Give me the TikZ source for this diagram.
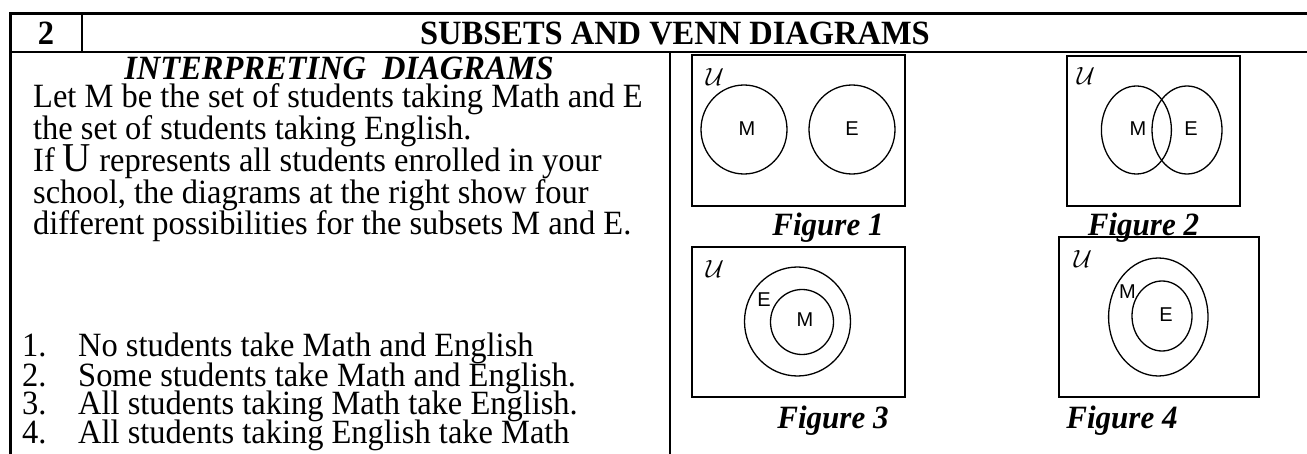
\documentclass[tikz,border=0pt]{standalone}
\usepackage{fontspec}
\setmainfont{Liberation Serif}[FakeStretch=0.955]
\newfontfamily\lsans{Liberation Sans}
\begin{document}
\begin{tikzpicture}[x=1pt,y=-1pt,
  txt/.style={anchor=base west,inner sep=0,font=\fontsize{34}{37}\selectfont},
  head/.style={anchor=base,inner sep=0,font=\bfseries\fontsize{34}{37}\selectfont},
  subhead/.style={anchor=base,inner sep=0,font=\bfseries\itshape\fontsize{34}{37}\selectfont},
  figcap/.style={anchor=base,inner sep=0,font=\bfseries\itshape\fontsize{32.5}{36}\selectfont},
  lbl/.style={inner sep=0,font=\lsans\fontsize{20}{24}\selectfont},
  uset/.style={inner sep=0,font=\fontsize{25}{28}\selectfont},
  boxline/.style={line width=1.5},
  venn/.style={line width=1.3},
  thick frame/.style={line width=3},
  thin frame/.style={line width=1.7}]
\useasboundingbox (0,0) rectangle (1307,454);
% frame
\coordinate (tl) at (9,14);
\coordinate (tr) at (1310,14);
\coordinate (lt) at (10.5,12.5);
\coordinate (bl) at (10.5,458);
\coordinate (hl) at (10.5,52);
\coordinate (hr) at (1310,52);
\coordinate (dt) at (82,14);
\coordinate (db) at (82,52);
\coordinate (ct) at (670,52);
\coordinate (cb) at (670,458);
\draw[thick frame] (tl) -- (tr);
\draw[thick frame] (lt) -- (bl);
\draw[thin frame] (hl) -- (hr);
\draw[thin frame] (dt) -- (db);
\draw[thin frame] (ct) -- (cb);
% header
\node[head] (num) at (46,45) {2};
\node[head] (title) at (675,45) {SUBSETS AND VENN DIAGRAMS};
% left column
\node[subhead] (sub) at (339,80) {INTERPRETING\ \ DIAGRAMS};
\node[txt] (p1) at (33,108) {Let M be the set of students taking Math and E};
\node[txt] (p2) at (33,140) {the set of students taking English.};
\node[txt] (p3) at (33,172) {If {\fontsize{41}{41}\selectfont U} represents all students enrolled in your};
\node[txt] (p4) at (33,204) {school, the diagrams at the right show four};
\node[txt] (p5) at (33,235) {different possibilities for the subsets M and E.};
\node[txt] (n1) at (22,357) {1.};
\node[txt] (l1) at (78,357) {No students take Math and English};
\node[txt] (n2) at (22,386) {2.};
\node[txt] (l2) at (78,386) {Some students take Math and English.};
\node[txt] (n3) at (22,414) {3.};
\node[txt] (l3) at (78,414) {All students taking Math take English.};
\node[txt] (n4) at (22,443) {4.};
\node[txt] (l4) at (78,443) {All students taking English take Math};
% Figure 1
\draw[boxline] (692,55) rectangle (905,206);
\node[uset] (u1) at (715,77) {$\mathcal{U}$};
\draw[venn] (744,129.5) ellipse [x radius=43,y radius=44.5];
\draw[venn] (852,129.5) ellipse [x radius=43,y radius=44.5];
\node[lbl] (m1) at (747,129) {M};
\node[lbl] (e1) at (852,129) {E};
\node[figcap] (c1) at (828,236) {Figure 1};
% Figure 2
\draw[boxline] (1067,56) rectangle (1240,206);
\node[uset] (u2) at (1086,76) {$\mathcal{U}$};
\draw[venn] (1136.4,130) ellipse [x radius=35,y radius=44];
\draw[venn] (1187,130) ellipse [x radius=35,y radius=44];
\node[lbl] (m2) at (1138,129) {M};
\node[lbl] (e2) at (1191,129) {E};
\node[figcap] (c2) at (1143.5,236) {Figure 2};
% Figure 3
\draw[boxline] (692,247) rectangle (905,397);
\node[uset] (u3) at (715,269) {$\mathcal{U}$};
\draw[venn] (797.5,321.5) ellipse [x radius=53,y radius=54.5];
\draw[venn] (802,322) ellipse [x radius=31.5,y radius=32.5];
\node[lbl] (e3) at (764,299.5) {E};
\node[lbl] (m3) at (805,320) {M};
\node[figcap] (c3) at (833,428) {Figure 3};
% Figure 4
\draw[boxline] (1059,237) rectangle (1259,397);
\node[uset] (u4) at (1083,259) {$\mathcal{U}$};
\draw[venn] (1158.3,317) ellipse [x radius=49.7,y radius=59];
\draw[venn] (1162,316) ellipse [x radius=30,y radius=35];
\node[lbl] (m4) at (1127.5,292) {M};
\node[lbl] (e4) at (1166,314.5) {E};
\node[figcap] (c4) at (1122,428) {Figure 4};
\end{tikzpicture}
\end{document}
